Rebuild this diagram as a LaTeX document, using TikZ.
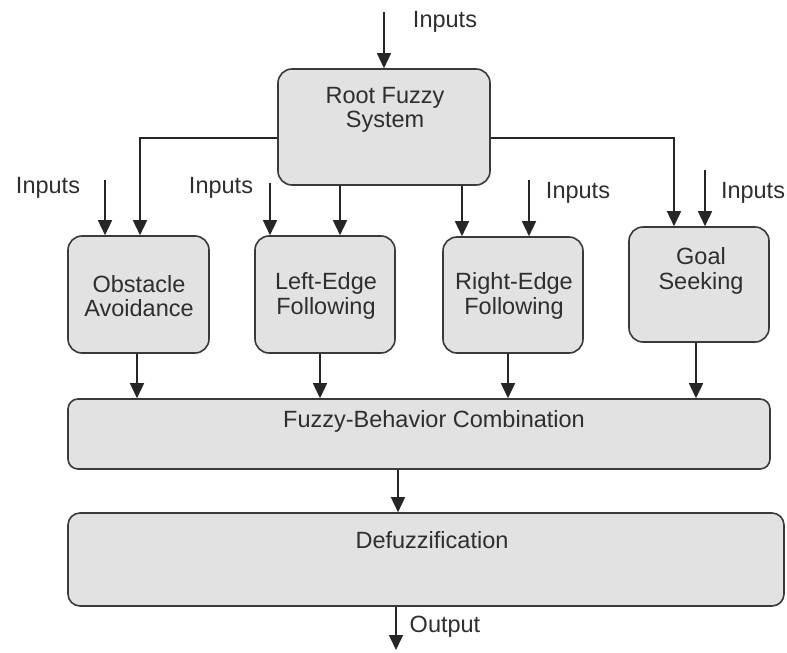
\documentclass[tikz,border=0pt]{standalone}
\usepackage{fontspec}
\setmainfont{Liberation Sans}
\usetikzlibrary{arrows.meta}
\definecolor{boxfill}{HTML}{E2E2E2}
\definecolor{boxline}{HTML}{3A3A3A}
\definecolor{txt}{HTML}{2E2E2E}
\begin{document}
\begin{tikzpicture}[x=1pt,y=-1pt,
  box/.style={draw=boxline,fill=boxfill,line width=1.6pt,rounded corners=14pt,inner sep=0pt},
  lbl/.style={text=txt,font=\fontsize{23.5}{24.5}\selectfont,align=center,inner sep=0pt},
  arr/.style={draw=black!85,line width=1.5pt,-{Triangle[length=15pt,width=14pt]}},
  ln/.style={draw=black!85,line width=1.5pt}]
\useasboundingbox (0,0) rectangle (787,653);
% boxes
\node[box,minimum width=212pt,minimum height=116pt] (root) at (384,127) {};
\node[box,minimum width=141pt,minimum height=117pt] (obs) at (138.5,294.5) {};
\node[box,minimum width=140pt,minimum height=117pt] (le) at (325,294.5) {};
\node[box,minimum width=140pt,minimum height=116pt] (re) at (513,295) {};
\node[box,minimum width=140pt,minimum height=115pt] (goal) at (699,284.5) {};
\node[box,rounded corners=10pt,minimum width=702pt,minimum height=70pt] (comb) at (419,434) {};
\node[box,rounded corners=12pt,minimum width=716pt,minimum height=93pt] (defz) at (426,559.5) {};
% texts
\node[lbl] (troot) at (385,110) {Root Fuzzy\\System};
\node[lbl] (tobs) at (139,296) {Obstacle\\Avoidance};
\node[lbl] (tle) at (326,296) {Left-Edge\\Following};
\node[lbl] (tre) at (514,296) {Right-Edge\\Following};
\node[lbl] (tgoal) at (701,271) {Goal\\Seeking};
\node[lbl] (tcomb) at (434,421) {Fuzzy-Behavior Combination};
\node[lbl] (tdefz) at (432,540) {Defuzzification};
% input labels
\node[lbl] (in0l) at (445,22) {Inputs};
\node[lbl] (inAl) at (48,188) {Inputs};
\node[lbl] (inBl) at (221,188) {Inputs};
\node[lbl] (inCl) at (578,193) {Inputs};
\node[lbl] (inDl) at (753,193) {Inputs};
\node[lbl] (outl) at (445,627) {Output};
% input start points
\coordinate (in0) at (384,12);
\coordinate (inA) at (105,180);
\coordinate (inB) at (270,183);
\coordinate (inC) at (529,180);
\coordinate (inD) at (705,170);
\coordinate (out) at (396,650);
% connectors
\draw[arr] (in0) -- (root.north);
\draw[arr] (inA) -- (obs.north -| inA);
\draw[arr] (inB) -- (le.north -| inB);
\draw[arr] (inC) -- (re.north -| inC);
\draw[arr] (inD) -- (goal.north -| inD);
\draw[arr] (root.west |- 0,138) -| (obs.north -| 140,0);
\draw[arr] (root.east |- 0,138) -| (goal.north -| 674,0);
\draw[arr] (root.south -| 340,0) -- (le.north -| 340,0);
\draw[arr] (root.south -| 462,0) -- (re.north -| 462,0);
\draw[arr] (obs.south -| 137,0) -- (comb.north -| 137,0);
\draw[arr] (le.south -| 320,0) -- (comb.north -| 320,0);
\draw[arr] (re.south -| 508,0) -- (comb.north -| 508,0);
\draw[arr] (goal.south -| 696,0) -- (comb.north -| 696,0);
\draw[arr] (comb.south -| 398,0) -- (defz.north -| 398,0);
\draw[arr] (defz.south -| out) -- (out);
\end{tikzpicture}
\end{document}
